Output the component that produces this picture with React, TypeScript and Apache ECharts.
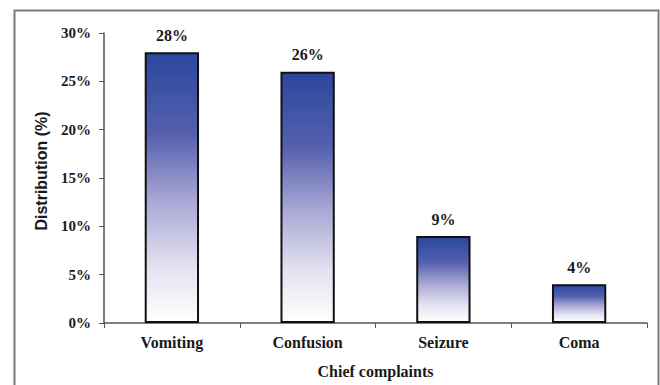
import React, { useEffect, useRef } from "react";
import * as echarts from "echarts";

const categories = ["Vomiting", "Confusion", "Seizure", "Coma"];
const values = [28, 26, 9, 4];
const yTicks = { min: 0, max: 30, interval: 5 };

export default function App() {
  const ref = useRef<HTMLDivElement>(null);
  useEffect(() => {
    if (!ref.current) return;
    const chart = echarts.init(ref.current, undefined, { renderer: "svg" });
    const grad = new echarts.graphic.LinearGradient(0, 0, 0, 1, [
      { offset: 0, color: "#2b479d" },
      { offset: 0.3, color: "#5560ae" },
      { offset: 0.55, color: "#a9a7d4" },
      { offset: 0.8, color: "#e4e3f1" },
      { offset: 1, color: "#ffffff" },
    ]);
    chart.setOption({
      animation: false,
      backgroundColor: "#ffffff",
      graphic: [
        {
          type: "rect",
          shape: { x: 14.5, y: 10.5, width: 644, height: 400 },
          style: { fill: "none", stroke: "#7a7a7a", lineWidth: 2 },
          silent: true,
        },
      ],
      grid: { left: 104, right: 13, top: 33, bottom: 62 },
      xAxis: {
        type: "category",
        data: categories,
        name: "Chief complaints",
        nameLocation: "middle",
        nameGap: 40,
        nameTextStyle: {
          fontFamily: "Liberation Serif",
          fontWeight: "bold",
          fontSize: 16,
          color: "#1a1a1a",
        },
        axisLine: { lineStyle: { color: "#555", width: 1.5 } },
        axisTick: { show: true, length: 5, lineStyle: { color: "#555" } },
        axisLabel: {
          fontFamily: "Liberation Serif",
          fontWeight: "bold",
          fontSize: 16,
          color: "#1a1a1a",
          margin: 11,
        },
      },
      yAxis: {
        type: "value",
        min: yTicks.min,
        max: yTicks.max,
        interval: yTicks.interval,
        name: "Distribution (%)",
        nameLocation: "middle",
        nameGap: 55,
        nameRotate: 90,
        nameTextStyle: {
          fontFamily: "Liberation Sans",
          fontWeight: "bold",
          fontSize: 16,
          color: "#1a1a1a",
          padding: [0, 0, 0, 14],
        },
        axisLine: { show: true, lineStyle: { color: "#555", width: 1.5 } },
        axisTick: { show: true, length: 5, lineStyle: { color: "#555" } },
        splitLine: { show: false },
        axisLabel: {
          formatter: "{value}%",
          fontFamily: "Liberation Serif",
          fontWeight: "bold",
          fontSize: 15,
          color: "#1a1a1a",
          margin: 13,
        },
      },
      series: [
        {
          type: "bar",
          data: values,
          barWidth: "40%",
          itemStyle: { color: grad, borderColor: "#111", borderWidth: 2 },
          label: {
            show: true,
            position: "top",
            distance: 9,
            formatter: "{c}%",
            fontFamily: "Liberation Serif",
            fontWeight: "bold",
            fontSize: 16,
            color: "#1a1a1a",
          },
        },
      ],
    });
    return () => chart.dispose();
  }, []);
  return (
    <div
      ref={ref}
      style={{ position: "fixed", left: 0, top: 0, width: 660, height: 385 }}
    />
  );
}
